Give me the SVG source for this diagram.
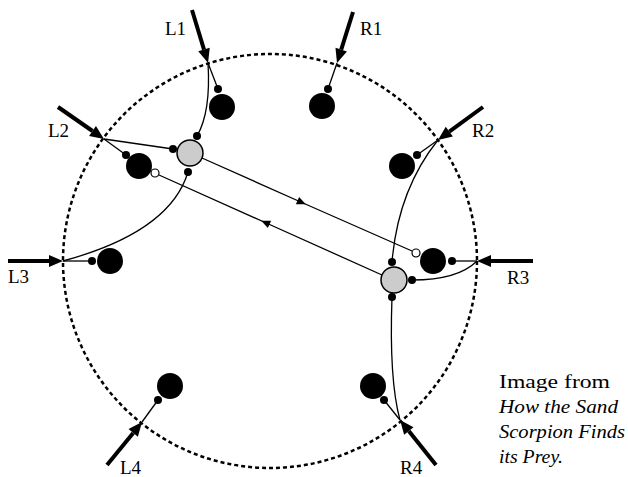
<svg xmlns="http://www.w3.org/2000/svg" width="628" height="477" viewBox="0 0 628 477">
<style>
.ring{fill:none;stroke:#000;stroke-width:2.5;stroke-dasharray:4 3}
.stim{stroke:#000;stroke-width:4;fill:none;marker-end:url(#bigArrow)}
.wire{fill:none;stroke:#000;stroke-width:1.3}
.big{fill:#000}
.dot{fill:#000}
.open{fill:#fff;stroke:#000;stroke-width:1.2}
.inter{fill:#cccccc;stroke:#000;stroke-width:1.5}
.lbl{font-family:"Liberation Serif","DejaVu Serif",serif;font-size:19px;fill:#000}
.cap{font-family:"Liberation Serif","DejaVu Serif",serif;font-size:18px;fill:#000}
.it{font-style:italic}
</style>
<defs>
<marker id="bigArrow" markerUnits="userSpaceOnUse" markerWidth="16" markerHeight="14" refX="0" refY="6" orient="auto" overflow="visible">
<path d="M0,0 L14,6 L0,12 z" fill="#000"/>
</marker>
<marker id="midArrow" markerUnits="userSpaceOnUse" markerWidth="10" markerHeight="8" refX="6" refY="4" orient="auto" overflow="visible">
<path d="M0,0 L9,4 L0,8 z" fill="#000"/>
</marker>
</defs>
<circle class="ring" cx="270" cy="261" r="207"/>
<g id="connectors">
<path class="wire" d="M208,63 L218,89"/>
<path class="wire" d="M208,63 Q211,112 197,136"/>
<path class="wire" d="M337,63 L328,89"/>
<path class="wire" d="M104,139 L173,149"/>
<path class="wire" d="M104,139 L126,155"/>
<path class="wire" d="M188,172 Q170,232 63,261"/>
<path class="wire" d="M63,261 L92,261"/>
<path class="wire" d="M438,140 L417,155"/>
<path class="wire" d="M438,140 Q398,190 392,262"/>
<path class="wire" d="M477,261 L452,261"/>
<path class="wire" d="M477,261 Q458,280 412,280"/>
<path class="wire" d="M392,297 Q389,380 400,420"/>
<path class="wire" d="M400,420 L384,400"/>
<path class="wire" d="M142,422 L158,400"/>
<path class="wire" d="M202,158 L303,203 L412,251" marker-mid="url(#midArrow)"/>
<path class="wire" d="M382,275 L264,222 L159,175" marker-mid="url(#midArrow)"/>
<path class="stim" d="M192,10 L204,49.6"/>
<path class="stim" d="M353,12 L341.2,49.6"/>
<path class="stim" d="M58,107 L92.5,131"/>
<path class="stim" d="M483,107 L449.3,131.7"/>
<path class="stim" d="M8,261 L49,261"/>
<path class="stim" d="M533,261 L491,261"/>
<path class="stim" d="M107,465 L133.2,432.9"/>
<path class="stim" d="M436,465 L408.8,430.9"/>
</g>
<g id="L1"><circle class="big" cx="222" cy="107" r="13"/><circle class="dot" cx="218" cy="89" r="4"/><text class="lbl" x="165" y="35">L1</text></g>
<g id="R1"><circle class="big" cx="322" cy="106" r="13"/><circle class="dot" cx="328" cy="89" r="4"/><text class="lbl" x="360" y="35">R1</text></g>
<g id="L2"><circle class="big" cx="139" cy="166" r="13"/><circle class="dot" cx="126" cy="155" r="4"/><circle class="open" cx="155" cy="173" r="4"/><text class="lbl" x="48" y="137">L2</text></g>
<g id="R2"><circle class="big" cx="402" cy="166" r="13"/><circle class="dot" cx="417" cy="155" r="4"/><text class="lbl" x="472" y="137">R2</text></g>
<g id="L3"><circle class="big" cx="110" cy="261" r="13"/><circle class="dot" cx="92" cy="261" r="4"/><text class="lbl" x="8" y="283">L3</text></g>
<g id="R3"><circle class="big" cx="433" cy="261" r="13"/><circle class="dot" cx="452" cy="261" r="4"/><circle class="open" cx="416" cy="253" r="4"/><text class="lbl" x="507" y="284">R3</text></g>
<g id="L4"><circle class="big" cx="170" cy="386" r="13"/><circle class="dot" cx="158" cy="400" r="4"/><text class="lbl" x="120" y="474">L4</text></g>
<g id="R4"><circle class="big" cx="373" cy="386" r="13"/><circle class="dot" cx="384" cy="400" r="4"/><text class="lbl" x="400" y="474">R4</text></g>
<g id="interL"><circle class="inter" cx="190" cy="153" r="13"/><circle class="dot" cx="197" cy="136" r="4"/><circle class="dot" cx="173" cy="149" r="4"/><circle class="dot" cx="188" cy="172" r="4"/></g>
<g id="interR"><circle class="inter" cx="394" cy="280" r="13"/><circle class="dot" cx="392" cy="262" r="4"/><circle class="dot" cx="412" cy="280" r="4"/><circle class="dot" cx="392" cy="297" r="4"/></g>
<g id="caption">
<text class="cap" x="499" y="388" textLength="111" lengthAdjust="spacingAndGlyphs">Image from</text>
<text class="cap it" x="499" y="413" textLength="119" lengthAdjust="spacingAndGlyphs">How the Sand</text>
<text class="cap it" x="499" y="438" textLength="126" lengthAdjust="spacingAndGlyphs">Scorpion Finds</text>
<text class="cap it" x="499" y="463" textLength="64" lengthAdjust="spacingAndGlyphs">its Prey.</text>
</g>
</svg>
